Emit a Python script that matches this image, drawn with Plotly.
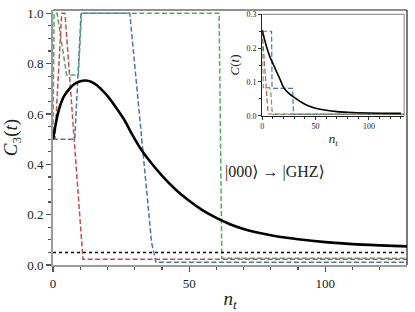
import plotly.graph_objects as go

# ---------------- data ----------------
# main panel: C_3(t) vs n_t
black_n = [0, 1, 2, 3, 4, 6, 8, 10, 12, 14, 16, 18, 20, 23, 26, 29, 32, 35, 40, 45, 50, 55, 60,
           65, 70, 75, 80, 85, 90, 100, 110, 120, 130]
black_v = [0.50, 0.56, 0.61, 0.645, 0.67, 0.70, 0.72, 0.73, 0.733, 0.728, 0.715, 0.695, 0.672,
           0.628, 0.58, 0.52, 0.465, 0.42, 0.355, 0.30, 0.255, 0.217, 0.187, 0.162, 0.143, 0.129,
           0.118, 0.109, 0.102, 0.091, 0.083, 0.078, 0.074]

blue_n = [0, 8, 10.3, 28.2, 36.2, 37.8, 130]
blue_v = [0.5, 0.5, 1.0, 1.0, 0.089, 0.011, 0.011]

green_n = [0, 0.4, 1.5, 5, 9.3, 10.5, 61, 62, 130]
green_v = [0.5, 1.0, 1.0, 0.755, 0.755, 1.0, 1.0, 0.027, 0.027]

red_n = [0, 0.7, 3.2, 4.4, 11, 130]
red_v = [0.5, 0.5, 1.0, 1.0, 0.023, 0.023]

threshold_n = [0, 130]
threshold_v = [0.05, 0.05]

# inset: C(t) vs n_t
in_black_n = [0, 2, 4, 6, 8, 10, 13, 16, 20, 25, 30, 35, 40, 45, 50, 60, 70, 80, 100, 130]
in_black_v = [0.254, 0.228, 0.205, 0.185, 0.168, 0.155, 0.133, 0.113, 0.084, 0.066, 0.054, 0.043,
              0.034, 0.027, 0.022, 0.016, 0.012, 0.010, 0.008, 0.007]

in_blue_n = [0, 8.8, 9.2, 28.5, 29.3, 133]
in_blue_v = [0.25, 0.25, 0.081, 0.081, 0.004, 0.004]

in_green_n = [0, 1, 7, 8, 9.5, 133]
in_green_v = [0.25, 0.083, 0.083, 0.07, 0.004, 0.004]

in_red_n = [0, 5.5, 133]
in_red_v = [0.25, 0.005, 0.005]

# ---------------- styles ----------------
BLUE = "#4c72b0"
GREEN = "#55a868"
RED = "#c44e52"
DASH = "5px,2.5px"
FONT = '"Liberation Serif", "DejaVu Serif", serif'

fig = go.Figure()

def dashed(x, y, color, xa="x", ya="y", w=1.5):
    fig.add_trace(go.Scatter(x=x, y=y, mode="lines", xaxis=xa, yaxis=ya,
                             line=dict(color=color, width=w, dash=DASH),
                             showlegend=False, hoverinfo="skip"))

# main
dashed(blue_n, blue_v, BLUE)
dashed(green_n, green_v, GREEN)
dashed(red_n, red_v, RED)
fig.add_trace(go.Scatter(x=threshold_n, y=threshold_v, mode="lines",
                         line=dict(color="black", width=1.5, dash="dot"),
                         showlegend=False, hoverinfo="skip"))
fig.add_trace(go.Scatter(x=black_n, y=black_v, mode="lines",
                         line=dict(color="black", width=2.6, shape="spline", smoothing=0.8),
                         showlegend=False, hoverinfo="skip"))

# inset
dashed(in_blue_n, in_blue_v, BLUE, "x2", "y2", 1.2)
dashed(in_green_n, in_green_v, GREEN, "x2", "y2", 1.2)
dashed(in_red_n, in_red_v, RED, "x2", "y2", 1.2)
fig.add_trace(go.Scatter(x=in_black_n, y=in_black_v, mode="lines", xaxis="x2", yaxis="y2",
                         line=dict(color="black", width=1.6, shape="spline", smoothing=0.8),
                         showlegend=False, hoverinfo="skip"))

tickfont_main = dict(family=FONT, size=13, color="#222")
tickfont_in = dict(family=FONT, size=8, color="#222")

fig.update_layout(
    width=415, height=312,
    margin=dict(l=53, r=8, t=10, b=47),
    paper_bgcolor="white", plot_bgcolor="white",
    font=dict(family=FONT, color="#222"),
    xaxis=dict(range=[0, 130], domain=[0, 1], showgrid=False, zeroline=False, automargin=False,
               tickvals=[0, 50, 100], ticks="outside", ticklen=5, tickwidth=1.2, tickcolor="#555",
               minor=dict(tickvals=[10, 20, 30, 40, 60, 70, 80, 90, 110, 120], ticks="outside",
                          ticklen=3, tickcolor="#555"),
               showline=True, linecolor="#9a9a9a", linewidth=2, mirror=False,
               tickfont=tickfont_main,
               title=dict(text="<i>n</i><sub><i>t</i></sub>", font=dict(family=FONT, size=19),
                          standoff=8)),
    yaxis=dict(range=[0, 1.013], domain=[0, 1], showgrid=False, zeroline=False, automargin=False,
               tickvals=[0, 0.2, 0.4, 0.6, 0.8, 1.0], ticktext=["0.0", "0.2", "0.4", "0.6", "0.8", "1.0"],
               ticks="outside", ticklen=5, tickwidth=1.2, tickcolor="#555",
               minor=dict(dtick=0.05, ticks="outside", ticklen=3, tickcolor="#555"),
               showline=True, linecolor="#9a9a9a", linewidth=2,
               tickfont=tickfont_main,
               title=dict(text="<i>C</i><sub>3</sub>(<i>t</i>)", font=dict(family=FONT, size=19),
                          standoff=6)),
    xaxis2=dict(range=[0, 133], domain=[0.591, 0.992], anchor="y2", showgrid=False, zeroline=False,
                automargin=False,
                tickvals=[0, 50, 100], ticks="outside", ticklen=3, tickwidth=1, tickcolor="#333",
                minor=dict(dtick=10, ticks="outside", ticklen=2, tickcolor="#333"),
                showline=True, linecolor="#222", linewidth=1.2,
                tickfont=tickfont_in,
                title=dict(text="<i>n</i><sub><i>t</i></sub>", font=dict(family=FONT, size=13),
                           standoff=3)),
    yaxis2=dict(range=[0, 0.3], domain=[0.5855, 0.983], anchor="x2", showgrid=False, zeroline=False,
                automargin=False,
                tickvals=[0, 0.1, 0.2, 0.3], ticktext=["0.0", "0.1", "0.2", "0.3"],
                ticks="outside", ticklen=3, tickwidth=1, tickcolor="#333",
                minor=dict(dtick=0.05, ticks="outside", ticklen=2, tickcolor="#333"),
                showline=True, linecolor="#222", linewidth=1.2,
                tickfont=tickfont_in,
                title=dict(text="<i>C</i>(<i>t</i>)", font=dict(family=FONT, size=13), standoff=3)),
)

# frame: top/right of main (black), top/right of inset (gray)
fig.add_shape(type="line", xref="paper", yref="paper", x0=0, x1=1, y0=1, y1=1,
              line=dict(color="#222", width=1.2))
fig.add_shape(type="line", xref="paper", yref="paper", x0=1, x1=1, y0=0, y1=1,
              line=dict(color="#222", width=1.2))
fig.add_shape(type="line", xref="x2 domain", yref="y2 domain", x0=0, x1=1, y0=1, y1=1,
              line=dict(color="#999", width=1.2))
fig.add_shape(type="line", xref="x2 domain", yref="y2 domain", x0=1, x1=1, y0=0, y1=1,
              line=dict(color="#999", width=1.2))

fig.add_annotation(text="|000⟩ → |GHZ⟩", xref="paper", yref="paper", x=0.775, y=0.365,
                   showarrow=False, font=dict(family=FONT, size=16, color="#222"))

fig.write_html("out.html",
               config={"displayModeBar": False, "staticPlot": True},
               post_script="document.body.style.margin='0';document.body.style.overflow='hidden';")
